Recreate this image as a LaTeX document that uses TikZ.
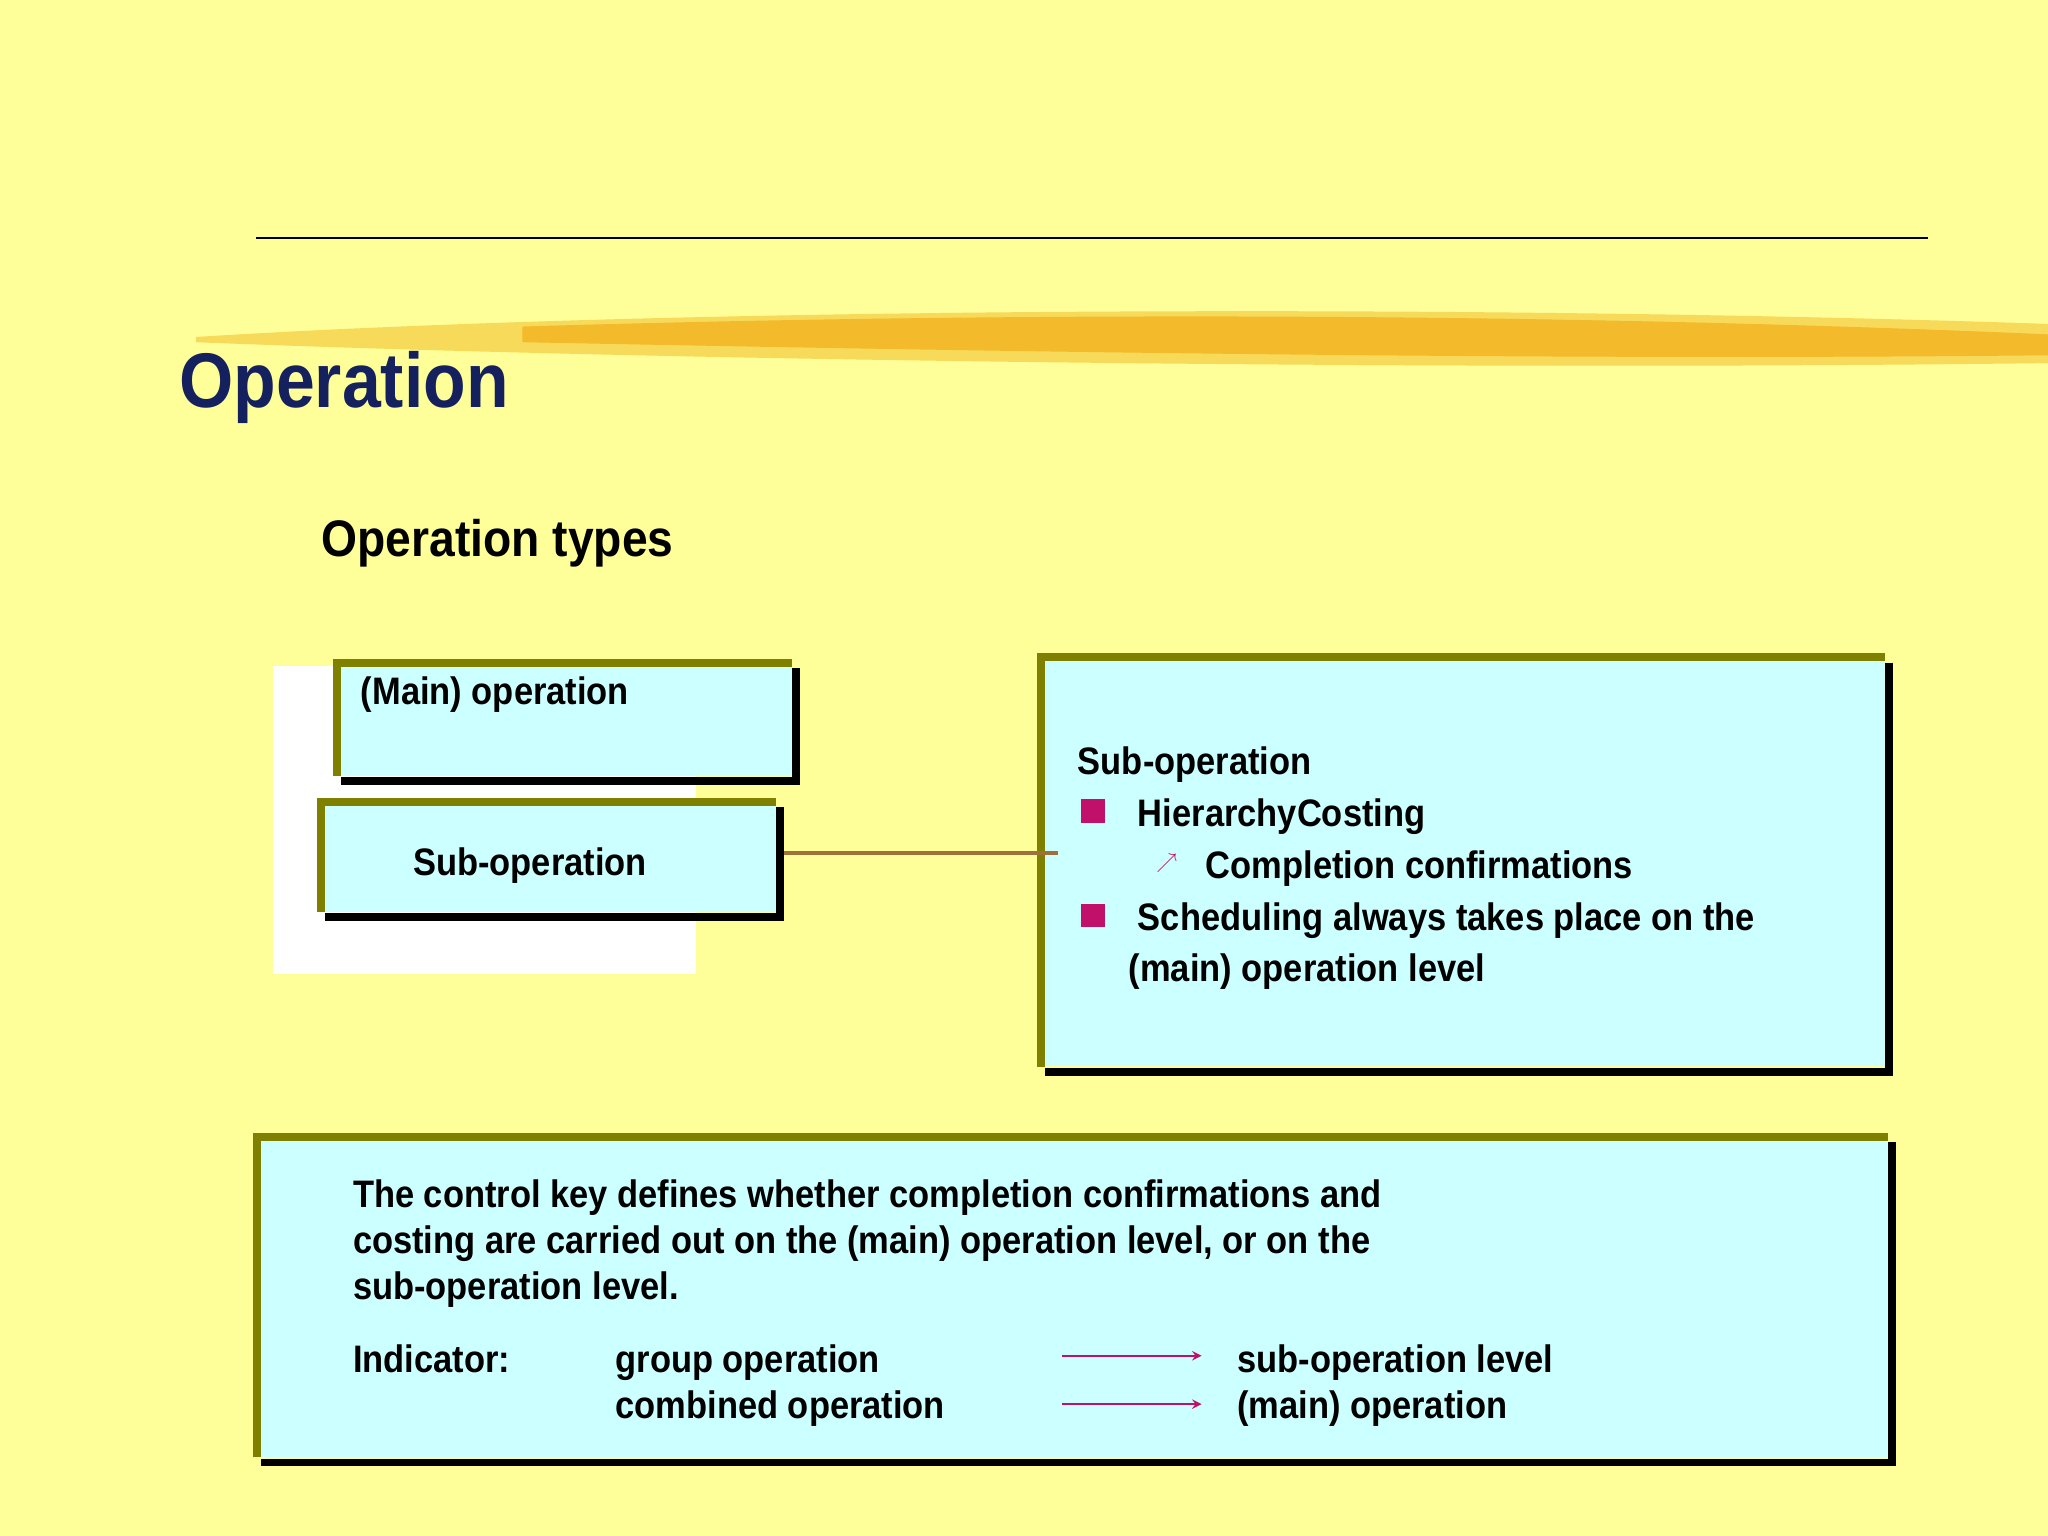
\documentclass[tikz,border=0pt]{standalone}
\usepackage{fontspec}
\setmainfont{Liberation Sans}[FakeStretch=0.9]
\usetikzlibrary{calc}
\definecolor{bg}{HTML}{FFFF99}
\definecolor{cy}{HTML}{CCFFFF}
\definecolor{ol}{HTML}{808000}
\definecolor{mg}{HTML}{C0106A}
\definecolor{navy}{HTML}{14215E}
\definecolor{brn}{HTML}{A0703A}
\definecolor{br1}{HTML}{F2C230}
\tikzset{
  bx/.style={fill=cy, draw=none, inner sep=0pt},
  txt/.style={font=\bfseries\fontsize{22pt}{26pt}\selectfont, anchor=west, inner sep=0pt, text height=16pt, text depth=4.5pt},
  bul/.style={fill=mg, inner sep=0pt, minimum size=13.5pt},
}
\newcommand{\shbox}[1]{%
  \draw[line width=4.5pt, black] ($(#1.north east)+(3,4)$) -- ($(#1.south east)+(3,4)$) -- ($(#1.south west)+(3,4)$);
  \draw[line width=4.5pt, ol] (#1.south west) -- (#1.north west) -- (#1.north east);}
\begin{document}
\begin{tikzpicture}[x=0.75pt,y=-0.75pt]
\fill[bg] (0,0) rectangle (1568,1176);
\useasboundingbox (0,0) rectangle (1568,1176);
\draw[line width=1.2pt] (196,182) -- (1476,182);
% brush stroke
\fill[br1!60!bg] (150,258) .. controls (500,236) and (1100,232) .. (1568,248) -- (1568,278) .. controls (1100,284) and (500,276) .. (150,262) -- cycle;
\fill[br1!90!orange] (400,250) .. controls (800,238) and (1200,240) .. (1568,256) -- (1568,272) .. controls (1200,276) and (800,270) .. (400,262) -- cycle;
\node[anchor=west, inner sep=0pt, text=navy, font=\bfseries\fontsize{44.5pt}{50pt}\selectfont] (title) at (137,297) {Operation};
\node[txt, font=\bfseries\fontsize{29.5pt}{32pt}\selectfont, text height=21pt, text depth=6pt] (types) at (246,416) {Operation types};
% white panel
\fill[white] (209,510) rectangle (533,746);
\node[bx, minimum width=348*0.75pt, minimum height=86*0.75pt] (main) at (432,551) {};
\shbox{main}
\node[txt] at (276,532) {(Main) operation};
\node[bx, minimum width=348*0.75pt, minimum height=84*0.75pt] (sub) at (420,656) {};
\shbox{sub}
\node[txt] at (316,663) {Sub-operation};
% right box
\node[bx, minimum width=646*0.75pt, minimum height=313*0.75pt] (rb) at (1120,660) {};
\shbox{rb}
\draw[brn, line width=2.2pt] ($(sub.east)+(6,-3)$) -- ($(rb.west)+(13,-7)$) coordinate (lk);
\node[txt] (r1) at (825,585) {Sub-operation};
\node[bul] (b1) at (837,621) {};
\node[txt] (r2) at (871,625) {HierarchyCosting};
\node[txt, text=mg, font=\fontsize{13pt}{15pt}\selectfont, text height=8pt, text depth=1pt] (ar) at (885,660) {$\nearrow$};
\node[txt] (r3) at (923,665) {Completion confirmations};
\node[bul] (b2) at (837,701) {};
\node[txt] (r4) at (871,705) {Scheduling always takes place on the};
\node[txt] (r5) at (864,744) {(main) operation level};
% bottom box
\node[bx, minimum width=1248*0.75pt, minimum height=245*0.75pt] (bb) at (821,993) {};
\shbox{bb}
\node[txt, align=left, anchor=north west, font=\bfseries\fontsize{22pt}{26.3pt}\selectfont, text height=, text depth=] (p) at (270,903) {The control key defines whether completion confirmations and\\costing are carried out on the (main) operation level, or on the\\sub-operation level.};
\node[txt] (ind) at (270,1043) {Indicator:};
\node[txt] (g1) at (471,1043) {group operation};
\node[txt] (g2) at (471,1078) {combined operation};
\node[txt] (h1) at (947,1043) {sub-operation level};
\node[txt] (h2) at (947,1078) {(main) operation};
\coordinate (a1) at (813,1038); \coordinate (a2) at (813,1075);
\coordinate (e1) at (920,1038); \coordinate (e2) at (920,1075);
\draw[mg, line width=1.4pt, -stealth] (a1) -- (e1);
\draw[mg, line width=1.4pt, -stealth] (a2) -- (e2);
\end{tikzpicture}
\end{document}
